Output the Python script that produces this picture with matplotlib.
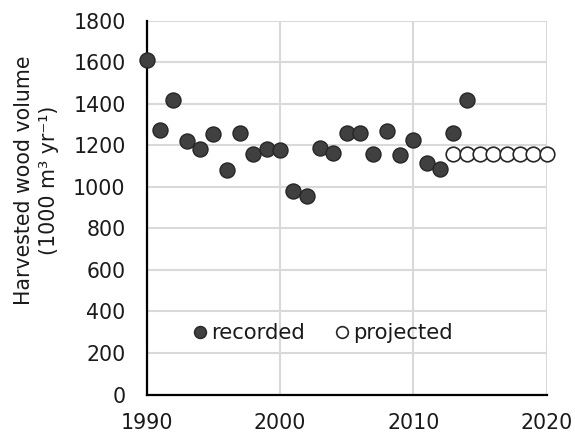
import matplotlib
matplotlib.use("Agg")
import matplotlib.pyplot as plt

rec_years = list(range(1990, 2015))
rec_values = [1613, 1272, 1419, 1220, 1184, 1254, 1080, 1259, 1160, 1184, 1179,
              982, 954, 1186, 1165, 1259, 1258, 1160, 1268, 1151, 1226, 1115,
              1085, 1259, 1416]
proj_years = list(range(2013, 2021))
proj_values = [1160] * 8

x_ticks = [1990, 2000, 2010, 2020]
y_ticks = list(range(0, 2000, 200))

plt.rcParams['font.family'] = ['DejaVu Sans']

fig = plt.figure(figsize=(5.75, 4.34), dpi=100)
ax = fig.add_axes([0.2548, 0.0909, 0.6957, 0.8614])

ax.plot(proj_years, proj_values, linestyle='none', marker='o', markersize=10.5,
        markerfacecolor='white', markeredgecolor='#262626', markeredgewidth=1.2,
        label='projected', zorder=3, clip_on=False)
ax.plot(rec_years, rec_values, linestyle='none', marker='o', markersize=10.8,
        markerfacecolor='#404040', markeredgecolor='#262626', markeredgewidth=1.0,
        label='recorded', zorder=4, clip_on=False)

ax.set_xlim(1990, 2020)
ax.set_ylim(0, 1800)
ax.set_xticks(x_ticks)
ax.set_yticks(y_ticks)
ax.tick_params(length=0, labelsize=14.8, colors='#1a1a1a')
ax.tick_params(axis='y', pad=15)
ax.tick_params(axis='x', pad=13)
ax.grid(True, color='#d9d9d9', linewidth=1.5)
ax.set_axisbelow(True)
for s in ['top', 'right']:
    ax.spines[s].set_visible(False)
ax.spines['left'].set_linewidth(1.6)
ax.spines['bottom'].set_linewidth(1.6)
ax.spines['left'].set_color('black')
ax.spines['bottom'].set_color('black')

ax.set_ylabel('Harvested wood volume\n(1000 m\u00b3 yr\u207b\u00b9)', fontsize=14.8,
              color='#1a1a1a', linespacing=1.3)
ax.yaxis.set_label_coords(-0.22, 0.573)

handles, labels = ax.get_legend_handles_labels()
order = [1, 0]
leg = ax.legend([handles[i] for i in order], [labels[i] for i in order],
                loc='center', bbox_to_anchor=(0.44, 0.164), ncol=2, frameon=False,
                fontsize=15.2, markerscale=0.8, handlelength=0.7, handletextpad=0.16,
                columnspacing=1.42)
for t in leg.get_texts():
    t.set_color('#1a1a1a')

fig.savefig('out.png', dpi=100)
